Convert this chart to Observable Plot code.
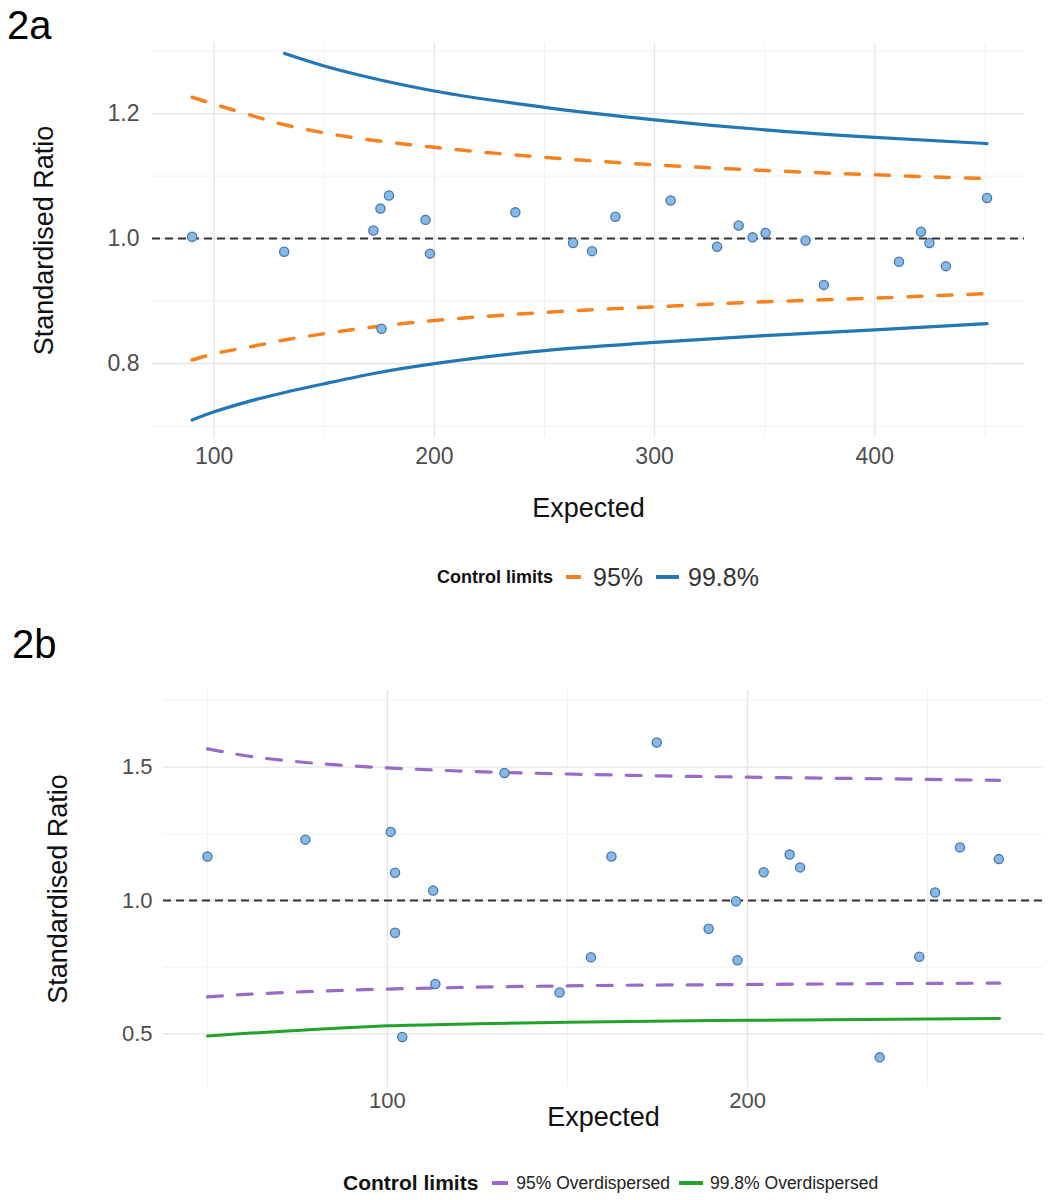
<!DOCTYPE html>
<html><head><meta charset="utf-8">
<script src="https://cdn.jsdelivr.net/npm/d3@7"></script>
<script src="https://cdn.jsdelivr.net/npm/@observablehq/plot@0.6"></script>
<style>
body{margin:0;background:#fff;font-family:"Liberation Sans",Arial,sans-serif;}
#wrap{position:relative;width:1049px;height:1200px;overflow:hidden;}
.abs{position:absolute;}
.panelLabel{font-size:40px;line-height:40px;color:#000;}
.legend{display:flex;align-items:center;white-space:nowrap;}
.key{display:inline-block;}
</style></head>
<body><div id="wrap">
<div id="plotA" class="abs" style="left:0;top:0;"></div>
<div id="plotB" class="abs" style="left:0;top:600px;"></div>
<div class="abs panelLabel" style="left:7px;top:5px;">2a</div>
<div class="abs panelLabel" style="left:12px;top:624px;">2b</div>
<div class="abs legend" style="left:437px;top:563px;height:28px;">
  <span style="font-size:18px;font-weight:bold;color:#111;">Control limits</span>
  <span class="key" style="margin-left:13px;width:15px;height:4px;background:#f5821f;"></span>
  <span style="margin-left:12px;font-size:25px;color:#333;">95%</span>
  <span class="key" style="margin-left:13px;width:23px;height:4px;background:#2377b4;"></span>
  <span style="margin-left:9px;font-size:25px;color:#333;">99.8%</span>
</div>
<div class="abs legend" style="left:343px;top:1169px;height:28px;">
  <span style="font-size:21px;font-weight:bold;color:#111;">Control limits</span>
  <span class="key" style="margin-left:14px;width:16px;height:4px;background:#9a6bc6;"></span>
  <span style="margin-left:8px;font-size:17.5px;color:#222;">95% Overdispersed</span>
  <span class="key" style="margin-left:9px;width:24px;height:4px;background:#23a12d;"></span>
  <span style="margin-left:7px;font-size:17.5px;color:#222;">99.8% Overdispersed</span>
</div>
</div>
<script>
// ---------- Panel 2a data ----------
const aExpected = [90, 131.8, 172.3, 175.5, 179.4, 176, 196, 198, 236.8, 263, 271.6, 282.2, 307.3, 328.4, 338.2, 344.5, 350.4, 368.6, 376.9, 411, 421, 424.8, 432.3, 451];
const aRatio    = [1.003, 0.979, 1.013, 1.048, 1.069, 0.856, 1.030, 0.976, 1.042, 0.993, 0.980, 1.035, 1.061, 0.987, 1.021, 1.002, 1.009, 0.997, 0.926, 0.963, 1.011, 0.993, 0.956, 1.065];
const aLimitX   = [90, 100, 115, 132, 150, 175, 200, 250, 300, 350, 400, 451];
const aUpper95  = [1.226, 1.215, 1.199, 1.182, 1.169, 1.156, 1.146, 1.130, 1.118, 1.109, 1.102, 1.096];
const aLower95  = [0.806, 0.816, 0.826, 0.838, 0.848, 0.860, 0.869, 0.882, 0.891, 0.899, 0.905, 0.912];
const aUpper998 = [null, null, null, 1.296, 1.276, 1.254, 1.236, 1.210, 1.190, 1.174, 1.162, 1.152];
const aLower998 = [0.710, 0.723, 0.739, 0.754, 0.768, 0.786, 0.800, 0.821, 0.834, 0.845, 0.854, 0.864];
const aXTicks = [100, 200, 300, 400];
const aYTicks = [0.8, 1.0, 1.2];

// ---------- Panel 2b data ----------
const bExpected = [50, 77.2, 100.9, 102.1, 102.1, 104.1, 112.7, 113.3, 132.5, 147.8, 156.5, 162.2, 174.8, 189.2, 196.8, 197.2, 204.5, 211.7, 214.6, 236.7, 247.7, 252.1, 259, 269.8];
const bRatio    = [1.165, 1.228, 1.257, 1.104, 0.879, 0.488, 1.037, 0.687, 1.478, 0.655, 0.787, 1.165, 1.592, 0.894, 0.997, 0.776, 1.106, 1.172, 1.124, 0.412, 0.789, 1.030, 1.199, 1.155];
const bLimitX   = [50, 62, 75, 87, 100, 125, 150, 200, 250, 270];
const bUpper95  = [1.568, 1.540, 1.520, 1.507, 1.497, 1.483, 1.474, 1.462, 1.454, 1.450];
const bLower95  = [0.639, 0.649, 0.657, 0.663, 0.668, 0.675, 0.680, 0.685, 0.689, 0.690];
const bLower998 = [0.492, 0.503, 0.513, 0.522, 0.530, 0.538, 0.544, 0.551, 0.556, 0.558];
const bXTicks = [100, 200];
const bYTicks = [0.5, 1.0, 1.5];

const FONT = '"Liberation Sans", Arial, sans-serif';
const pairs = (xs, ys) => xs.map((x, i) => ({x, y: ys[i]})).filter(d => d.y != null);
const pts = (xs, ys) => xs.map((x, i) => ({x, y: ys[i]}));
const gridMinor = {stroke: "#efefef", strokeOpacity: 1, strokeWidth: 0.9};
const gridMajor = {stroke: "#e4e4e4", strokeOpacity: 1, strokeWidth: 1.3};
const dotStyle = {x: "x", y: "y", r: 4.6, fill: "#85b9ea", stroke: "#4a76a3", strokeWidth: 1.3};

const plotA = Plot.plot({
  width: 1049, height: 530,
  marginTop: 43, marginBottom: 93, marginLeft: 152, marginRight: 25,
  x: {domain: [72, 468]},
  y: {domain: [0.682, 1.312]},
  style: {fontFamily: FONT, background: "transparent", overflow: "visible"},
  marks: [
    Plot.gridX([150, 250, 350, 450], gridMinor),
    Plot.gridX(aXTicks, gridMajor),
    Plot.gridY([0.7, 0.9, 1.1, 1.3], gridMinor),
    Plot.gridY(aYTicks, gridMajor),
    Plot.axisX({ticks: aXTicks, tickSize: 0, tickPadding: 10, fontSize: 23, color: "#4d4d4d", label: null}),
    Plot.axisY({ticks: aYTicks, tickFormat: d3.format(".1f"), tickSize: 0, tickPadding: 13, fontSize: 23, color: "#4d4d4d", label: null}),
    Plot.ruleY([1], {stroke: "#333", strokeWidth: 2, strokeDasharray: "8,5"}),
    Plot.line(pairs(aLimitX, aUpper95), {x: "x", y: "y", curve: "monotone-x", stroke: "#f5821f", strokeWidth: 3.5, strokeDasharray: "14,16"}),
    Plot.line(pairs(aLimitX, aLower95), {x: "x", y: "y", curve: "monotone-x", stroke: "#f5821f", strokeWidth: 3.5, strokeDasharray: "14,16"}),
    Plot.line(pairs(aLimitX, aUpper998), {x: "x", y: "y", curve: "monotone-x", stroke: "#2377b4", strokeWidth: 3.2}),
    Plot.line(pairs(aLimitX, aLower998), {x: "x", y: "y", curve: "monotone-x", stroke: "#2377b4", strokeWidth: 3.2}),
    Plot.dot(pts(aExpected, aRatio), dotStyle),
    Plot.text(["Expected"], {text: d => d, frameAnchor: "bottom", dy: 79, fontSize: 27, fill: "#111"}),
    Plot.text(["Standardised Ratio"], {text: d => d, frameAnchor: "left", textAnchor: "middle", dx: -108, rotate: -90, fontSize: 27, fill: "#111"})
  ]
});
document.getElementById("plotA").appendChild(plotA);

const plotB = Plot.plot({
  width: 1049, height: 550,
  marginTop: 90, marginBottom: 63, marginLeft: 163, marginRight: 6,
  x: {domain: [37.8, 282.2]},
  y: {domain: [0.299, 1.787]},
  style: {fontFamily: FONT, background: "transparent", overflow: "visible"},
  marks: [
    Plot.gridX([50, 150, 250], gridMinor),
    Plot.gridX(bXTicks, gridMajor),
    Plot.gridY([0.75, 1.25, 1.75], gridMinor),
    Plot.gridY(bYTicks, gridMajor),
    Plot.axisX({ticks: bXTicks, tickSize: 0, tickPadding: 5, fontSize: 22, color: "#4d4d4d", label: null}),
    Plot.axisY({ticks: bYTicks, tickFormat: d3.format(".1f"), tickSize: 0, tickPadding: 11, fontSize: 22, color: "#4d4d4d", label: null}),
    Plot.ruleY([1], {stroke: "#333", strokeWidth: 2, strokeDasharray: "8,5"}),
    Plot.line(pairs(bLimitX, bUpper95), {x: "x", y: "y", curve: "monotone-x", stroke: "#9a6bc6", strokeWidth: 3.2, strokeDasharray: "15,15"}),
    Plot.line(pairs(bLimitX, bLower95), {x: "x", y: "y", curve: "monotone-x", stroke: "#9a6bc6", strokeWidth: 3.2, strokeDasharray: "15,15"}),
    Plot.line(pairs(bLimitX, bLower998), {x: "x", y: "y", curve: "monotone-x", stroke: "#23a12d", strokeWidth: 3}),
    Plot.dot(pts(bExpected, bRatio), dotStyle),
    Plot.text(["Expected"], {text: d => d, frameAnchor: "bottom", dy: 38, fontSize: 27, fill: "#111"}),
    Plot.text(["Standardised Ratio"], {text: d => d, frameAnchor: "left", textAnchor: "middle", dx: -105, rotate: -90, fontSize: 27, fill: "#111"})
  ]
});
document.getElementById("plotB").appendChild(plotB);
</script>
</body></html>
